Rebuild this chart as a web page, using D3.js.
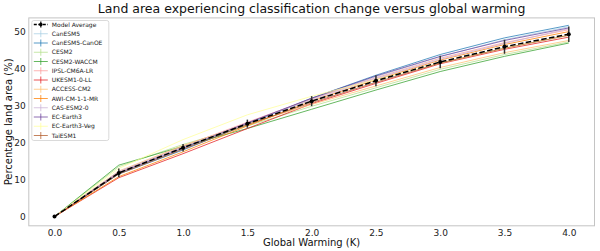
<!DOCTYPE html>
<html><head><meta charset="utf-8">
<script src="https://cdn.jsdelivr.net/npm/d3@7"></script>
<style>body{margin:0;background:#fff;}svg{display:block;font-family:"DejaVu Sans",sans-serif;}</style>
</head><body><svg id="c" width="600" height="251"></svg>
<script>
const warming = [0, 0.5, 1.0, 1.5, 2.0, 2.5, 3.0, 3.5, 4.0];
const models = ["CanESM5","CanESM5-CanOE","CESM2","CESM2-WACCM","IPSL-CM6A-LR","UKESM1-0-LL","ACCESS-CM2","AWI-CM-1-1-MR","CAS-ESM2-0","EC-Earth3","EC-Earth3-Veg","TaiESM1"];
const CanESM5      = [0, 11.8, 18.3, 25.2, 31.8, 37.8, 43.2, 47.8, 51.3];
const CanESM5CanOE = [0, 11.5, 18.0, 25.0, 32.0, 38.2, 43.8, 48.3, 51.7];
const CESM2        = [0, 13.5, 19.5, 24.5, 29.8, 34.8, 39.8, 43.8, 47.2];
const CESM2WACCM   = [0, 13.9, 19.0, 23.8, 29.0, 34.2, 39.2, 43.3, 46.9];
const IPSL         = [0, 12.0, 19.0, 25.5, 31.8, 37.5, 42.8, 47.0, 50.5];
const UKESM1       = [0, 10.5, 17.0, 23.8, 30.5, 36.0, 41.3, 45.2, 48.5];
const ACCESS       = [0, 12.3, 19.2, 25.0, 30.3, 35.3, 40.3, 44.3, 47.6];
const AWI          = [0, 10.8, 17.5, 24.5, 31.2, 37.0, 42.3, 46.5, 50.0];
const CAS          = [0, 12.2, 18.8, 25.3, 31.5, 37.3, 42.5, 46.8, 50.8];
const ECEarth3     = [0, 11.8, 18.5, 25.3, 32.0, 38.0, 43.3, 47.6, 51.0];
const ECEarth3Veg  = [0, 13.0, 20.8, 27.5, 32.5, 37.0, 41.5, 45.5, 49.0];
const TaiESM1      = [0, 11.5, 18.2, 24.8, 30.8, 36.3, 41.5, 45.5, 49.0];
const modelValues = [CanESM5, CanESM5CanOE, CESM2, CESM2WACCM, IPSL, UKESM1, ACCESS, AWI, CAS, ECEarth3, ECEarth3Veg, TaiESM1];
const meanValues = [0, 11.8, 18.6, 25.1, 31.2, 36.7, 41.8, 45.9, 49.3];
const meanErr    = [0, 1.2, 1.0, 1.1, 1.35, 1.5, 1.7, 1.9, 2.1];
const xTicks = [0, 0.5, 1.0, 1.5, 2.0, 2.5, 3.0, 3.5, 4.0];
const yTicks = [0, 10, 20, 30, 40, 50];
const colors = ["#a6cee3","#1f78b4","#b2df8a","#33a02c","#fb9a99","#e31a1c","#fdbf6f","#ff7f00","#cab2d6","#6a3d9a","#ffff99","#b15928"];

const svg = d3.select("#c");
const L = 28.8, R = 594.5, T = 17.9, B = 225.8;
const x = d3.scaleLinear().domain([-0.2, 4.2]).range([L, R]);
const y = d3.scaleLinear().domain([-2.5, 53.7]).range([B, T]);

// axes
const xa = svg.append("g").attr("transform", `translate(0,${B})`)
  .call(d3.axisBottom(x).tickValues(xTicks).tickFormat(d3.format(".1f")).tickSize(0).tickPadding(4));
const ya = svg.append("g").attr("transform", `translate(${L},0)`)
  .call(d3.axisLeft(y).tickValues(yTicks).tickSize(0).tickPadding(3));
[xa, ya].forEach(g => { g.select(".domain").remove(); g.selectAll("text").attr("font-size", 9).attr("fill", "#222").attr("font-family", "DejaVu Sans"); });

svg.append("rect").attr("x", L).attr("y", T).attr("width", R - L).attr("height", B - T)
  .attr("fill", "none").attr("stroke", "#c4c4c4").attr("stroke-width", 1);

const line = d3.line().x((d, i) => x(warming[i])).y(d => y(d));
const plot = svg.append("g");
modelValues.forEach((vals, k) => {
  plot.append("path").attr("d", line(vals)).attr("fill", "none")
    .attr("stroke", colors[k]).attr("stroke-width", 1).attr("stroke-opacity", 0.75);
});
// mean
plot.selectAll(".eb").data(meanValues).enter().append("line")
  .attr("x1", (d, i) => x(warming[i])).attr("x2", (d, i) => x(warming[i]))
  .attr("y1", (d, i) => y(d - meanErr[i])).attr("y2", (d, i) => y(d + meanErr[i]))
  .attr("stroke", "#333").attr("stroke-width", 1.5);
plot.append("path").attr("d", line(meanValues)).attr("fill", "none")
  .attr("stroke", "#000").attr("stroke-width", 1.5).attr("stroke-dasharray", "5.5,2.4");
plot.selectAll(".mk").data(meanValues).enter().append("circle")
  .attr("cx", (d, i) => x(warming[i])).attr("cy", d => y(d)).attr("r", 2).attr("fill", "#000");

// legend
const lg = svg.append("g");
const lx = 31.8, ly = 20.5, rowH = 9.25;
lg.append("rect").attr("x", lx).attr("y", ly).attr("width", 77).attr("height", 120)
  .attr("rx", 2).attr("fill", "#fff").attr("fill-opacity", 0.8).attr("stroke", "#d0d0d0").attr("stroke-width", 0.8);
const entries = ["Model Average"].concat(models);
entries.forEach((name, i) => {
  const cy = ly + 4 + i * rowH;
  const g = lg.append("g");
  if (i === 0) {
    g.append("line").attr("x1", lx + 2).attr("x2", lx + 16).attr("y1", cy).attr("y2", cy)
      .attr("stroke", "#000").attr("stroke-width", 1.5).attr("stroke-dasharray", "3,1.5");
    g.append("line").attr("x1", lx + 9).attr("x2", lx + 9).attr("y1", cy - 3).attr("y2", cy + 3)
      .attr("stroke", "#333").attr("stroke-width", 1.5);
    g.append("circle").attr("cx", lx + 9).attr("cy", cy).attr("r", 1.8).attr("fill", "#000");
  } else {
    const c = colors[i - 1];
    g.append("line").attr("x1", lx + 2).attr("x2", lx + 16).attr("y1", cy).attr("y2", cy)
      .attr("stroke", c).attr("stroke-width", 1).attr("stroke-opacity", 0.75);
    g.append("line").attr("x1", lx + 9).attr("x2", lx + 9).attr("y1", cy - 3.5).attr("y2", cy + 3.5)
      .attr("stroke", c).attr("stroke-width", 1).attr("stroke-opacity", 0.75);
  }
  g.append("text").attr("x", lx + 20).attr("y", cy).attr("dy", "0.35em")
    .attr("font-size", 6).attr("fill", "#222").text(name);
});

// labels
svg.append("text").attr("x", (L + R) / 2).attr("y", 13).attr("text-anchor", "middle")
  .attr("font-size", 12.5).attr("fill", "#111").text("Land area experiencing classification change versus global warming");
svg.append("text").attr("x", (L + R) / 2).attr("y", 246).attr("text-anchor", "middle")
  .attr("font-size", 10).attr("fill", "#111").text("Global Warming (K)");
svg.append("text").attr("transform", `translate(8.5,${(T + B) / 2}) rotate(-90)`).attr("text-anchor", "middle")
  .attr("dy", "0.35em").attr("font-size", 10).attr("fill", "#111").text("Percentage land area (%)");
</script></body></html>
